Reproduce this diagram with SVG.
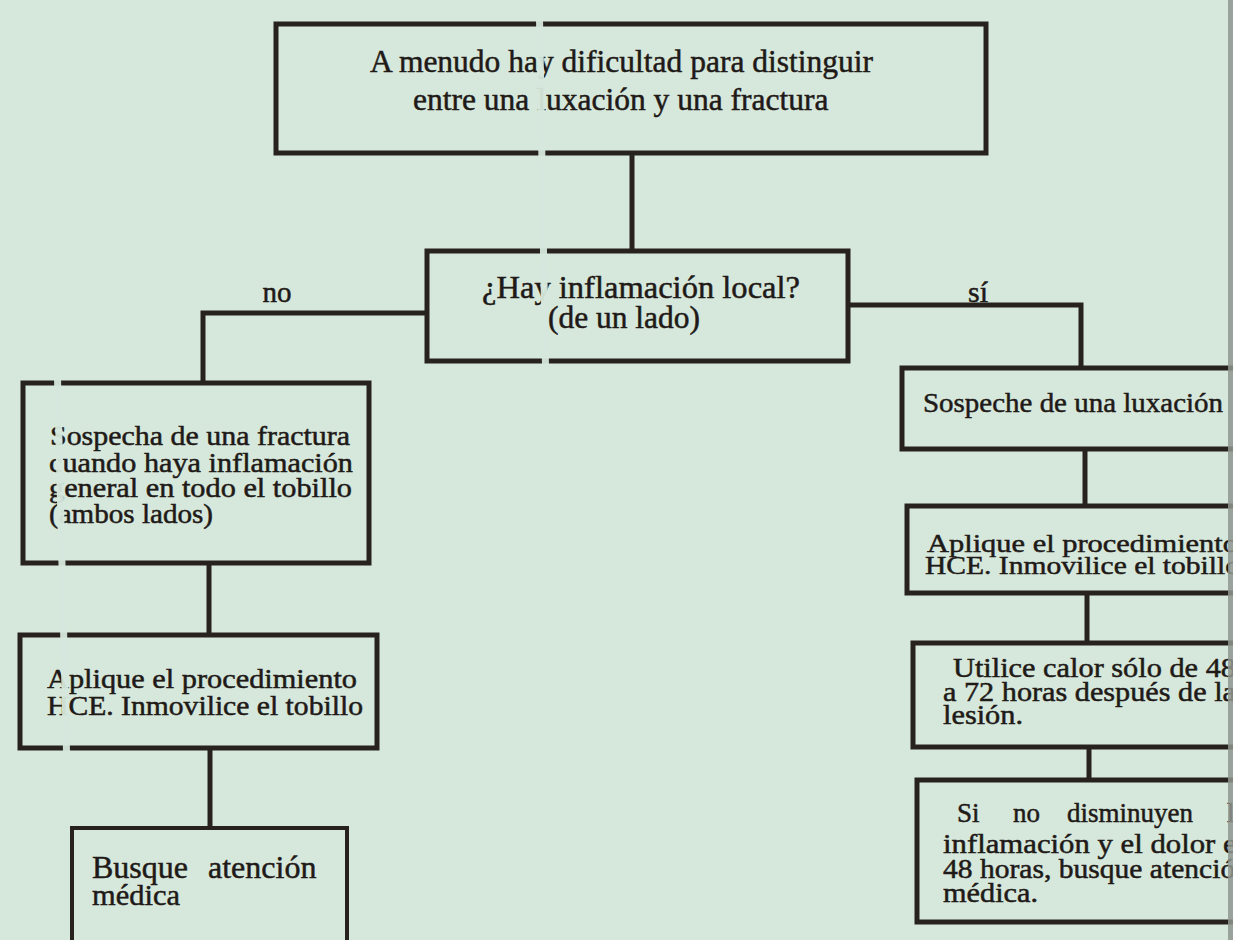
<svg xmlns="http://www.w3.org/2000/svg" width="1233" height="940" viewBox="0 0 1233 940">
<defs>
<style>
.bg{fill:#d6e8dc}
.box{fill:none;stroke:#28221f;stroke-width:5;stroke-linejoin:miter}
.thin{stroke-width:4}
.con{fill:none;stroke:#28221f;stroke-width:5;stroke-linejoin:miter}
.t{font-family:"Liberation Serif","Times New Roman",serif;fill:#1f1a17;stroke:#1f1a17;stroke-width:0.5}
.fold{fill:#d6e8dc;opacity:0.95}
</style>
</defs>
<rect class="bg" x="0" y="0" width="1233" height="940"/>

<g id="connectors">
<line class="con" x1="632" y1="153" x2="632" y2="251"/>
<polyline class="con" points="427,313 203,313 203,383"/>
<polyline class="con" points="848,305 1081,305 1081,368"/>
<line class="con" x1="209" y1="563" x2="209" y2="635"/>
<line class="con" x1="210" y1="748" x2="210" y2="828"/>
<line class="con" x1="1085" y1="449" x2="1085" y2="506"/>
<line class="con" x1="1087" y1="593" x2="1087" y2="643"/>
<line class="con" x1="1089" y1="747" x2="1089" y2="780"/>
<text class="t" x="277" y="302" font-size="29" text-anchor="middle">no</text>
<text class="t" x="978" y="302" font-size="30" text-anchor="middle">sí</text>
</g>

<g id="n-top">
<rect class="box" x="276" y="24" width="710" height="129"/>
<text class="t" x="370" y="72" font-size="31.5">A menudo hay dificultad para distinguir</text>
<text class="t" x="413" y="110" font-size="31.5">entre una luxación y una fractura</text>
</g>

<g id="n-question">
<rect class="box" x="427" y="251" width="421" height="110"/>
<text class="t" x="482" y="298" font-size="32" textLength="318" lengthAdjust="spacingAndGlyphs">¿Hay inflamación local?</text>
<text class="t" x="548" y="328" font-size="32" textLength="152" lengthAdjust="spacingAndGlyphs">(de un lado)</text>
</g>

<g id="n-fractura">
<rect class="box" x="23" y="383" width="346" height="180"/>
<text class="t" x="50" y="445" font-size="27" textLength="300" lengthAdjust="spacingAndGlyphs">Sospecha de una fractura</text>
<text class="t" x="49" y="472" font-size="27" textLength="304" lengthAdjust="spacingAndGlyphs">cuando haya inflamación</text>
<text class="t" x="49" y="497" font-size="27" textLength="303" lengthAdjust="spacingAndGlyphs">general en todo el tobillo</text>
<text class="t" x="49" y="523" font-size="27" textLength="164" lengthAdjust="spacingAndGlyphs">(ambos lados)</text>
</g>

<g id="n-hce-left">
<rect class="box" x="20" y="635" width="357" height="113"/>
<text class="t" x="47" y="688" font-size="27" textLength="310" lengthAdjust="spacingAndGlyphs">Aplique el procedimiento</text>
<text class="t" x="47" y="715" font-size="27" textLength="316" lengthAdjust="spacingAndGlyphs">HCE. Inmovilice el tobillo</text>
</g>

<g id="n-medica-left">
<rect class="box thin" x="72" y="828" width="275" height="130"/>
<text class="t" x="92" y="878" font-size="32" style="word-spacing:12px">Busque atención</text>
<text class="t" x="92" y="905" font-size="30" textLength="88" lengthAdjust="spacingAndGlyphs">médica</text>
</g>

<g id="n-luxacion">
<rect class="box" x="902" y="368" width="360" height="81"/>
<text class="t" x="923" y="412" font-size="28" textLength="300" lengthAdjust="spacingAndGlyphs">Sospeche de una luxación</text>
</g>

<g id="n-hce-right">
<rect class="box" x="907" y="506" width="355" height="87"/>
<text class="t" x="927" y="552" font-size="26" textLength="311" lengthAdjust="spacingAndGlyphs">Aplique el procedimiento</text>
<text class="t" x="925" y="574" font-size="26" textLength="315" lengthAdjust="spacingAndGlyphs">HCE. Inmovilice el tobillo</text>
</g>

<g id="n-calor">
<rect class="box" x="913" y="643" width="350" height="104"/>
<text class="t" x="953" y="677" font-size="27" textLength="283" lengthAdjust="spacingAndGlyphs">Utilice calor sólo de 48</text>
<text class="t" x="943" y="701" font-size="27" textLength="293" lengthAdjust="spacingAndGlyphs">a 72 horas después de la</text>
<text class="t" x="943" y="724" font-size="27" textLength="80" lengthAdjust="spacingAndGlyphs">lesión.</text>
</g>

<g id="n-medica-right">
<rect class="box" x="917" y="780" width="346" height="142"/>
<text class="t" x="957" y="822" font-size="27"><tspan>Si </tspan><tspan x="1013">no </tspan><tspan x="1067">disminuyen </tspan><tspan x="1227">la</tspan></text>
<text class="t" x="943" y="853" font-size="27" textLength="309" lengthAdjust="spacingAndGlyphs">inflamación y el dolor en</text>
<text class="t" x="943" y="878" font-size="27" textLength="307" lengthAdjust="spacingAndGlyphs">48 horas, busque atención</text>
<text class="t" x="943" y="902" font-size="27" textLength="95" lengthAdjust="spacingAndGlyphs">médica.</text>
</g>

<g id="scan-marks">
<polygon class="fold" points="536,18 543,18 549,366 542,366"/>
<polygon class="fold" points="54,378 61,378 70,752 63,752"/>
<rect x="1228" y="0" width="5" height="940" fill="#8f968f" opacity="0.85"/>
</g>
</svg>
